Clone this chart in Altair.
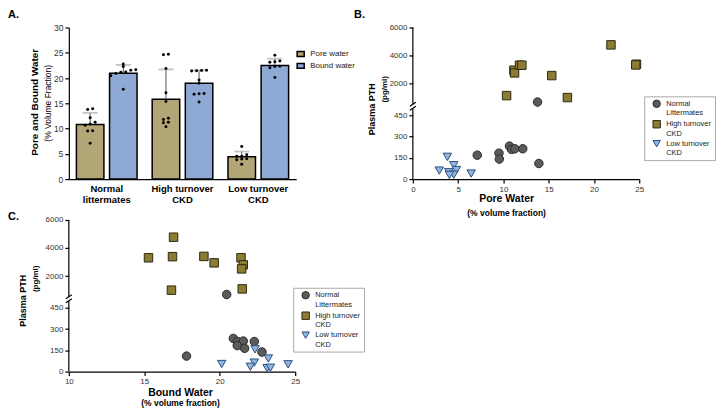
import altair as alt
import numpy as np
import pandas as pd

FONT = "Liberation Sans"

# ---------------- Panel A: group summaries ----------------
groups_a = ["Normal littermates", "High turnover CKD", "Low turnover CKD"]
water_types = ["Pore water", "Bound water"]
pore_mean = [10.8, 15.8, 4.4]
pore_mean_sd = [13.1, 21.7, 5.45]      # mean + SD (error bar top)
bound_mean = [20.95, 18.98, 22.46]
bound_mean_sd = [22.6, 21.5, 23.83]

# ---------------- Panel B: pore water vs plasma PTH ----------------
groups_sc = ["Normal Littermates", "High turnover CKD", "Low turnover CKD"]
normal_pore = [7.11, 9.51, 9.55, 10.67, 10.89, 11.26, 12.14, 13.92, 13.77]
normal_pore_pth = [169, 183, 141, 233, 210, 214, 214, 110, 680]
high_pore = [10.35, 11.16, 11.23, 11.78, 12.04, 15.34, 17.07, 21.88, 24.70, 24.62]
high_pore_pth = [1140, 2950, 2760, 3310, 3310, 2570, 1000, 4760, 3380, 3330]
low_pore = [2.92, 3.81, 3.96, 4.52, 4.81, 4.52, 4.04, 6.44]
low_pore_pth = [60, 157, 48, 98, 64, 31, 29, 39]

# ---------------- Panel C: bound water vs plasma PTH ----------------
normal_bound = [17.80, 20.90, 21.19, 21.56, 21.16, 21.65, 22.29, 22.80, 20.46]
normal_bound_pth = [109, 234, 212, 215, 183, 164, 212, 138, 680]
high_bound = [16.94, 15.28, 16.87, 18.95, 19.63, 21.41, 21.56, 21.45, 16.80, 21.49]
high_bound_pth = [4770, 3300, 3380, 3400, 2940, 3300, 2800, 2510, 990, 1080]
low_bound = [20.13, 22.34, 23.22, 22.29, 22.03, 23.14, 23.36, 24.53]
low_bound_pth = [53, 157, 92, 63, 34, 24, 27, 51]

pth_ticks = [0, 150, 300, 450, 2000, 4000, 6000]

# ---------------- styling ----------------
bar_fill = ["#b3a676", "#8eaad4"]
pt_fill = ["#5b5b5b", "#8c7b33", "#8db6e3"]
pt_stroke = ["#2b2b2b", "#2e2a12", "#2f4f7a"]
pt_shape = ["circle", "square", "triangle-down"]

# band layout of panel A
W_A, H_A = 228, 152
PAD_IN, PAD_OUT, SUB_PAD = 0.2, 0.1, 0.17

# ---------------- tables ----------------
bars_rows = []
for g, pm, pt, bm, bt in zip(groups_a, pore_mean, pore_mean_sd, bound_mean, bound_mean_sd):
    bars_rows.append({"group": g, "water": "Pore water", "mean": pm, "top": pt})
    bars_rows.append({"group": g, "water": "Bound water", "mean": bm, "top": bt})
bars_df = pd.DataFrame(bars_rows)


def swarm(vals, tol=0.45, step=5.0):
    vals = np.asarray(vals, dtype=float)
    order = np.argsort(vals)
    offs = np.zeros(len(vals))
    clusters, cur = [], [order[0]]
    for a, b in zip(order[:-1], order[1:]):
        if vals[b] - vals[a] < tol:
            cur.append(b)
        else:
            clusters.append(cur)
            cur = [b]
    clusters.append(cur)
    for c in clusters:
        n = len(c)
        for i, j in enumerate(c):
            offs[j] = (i - (n - 1) / 2) * step
    return offs


# centre of each water sub-band relative to the group band centre (same band maths as the scales)
step_g = W_A / (len(groups_a) - PAD_IN + 2 * PAD_OUT)
bw_g = step_g * (1 - PAD_IN)
step_s = bw_g / (2 - SUB_PAD)
bw_s = step_s * (1 - SUB_PAD)
water_shift = {"Pore water": bw_s / 2 - bw_g / 2, "Bound water": step_s + bw_s / 2 - bw_g / 2}

dot_rows = []
pore_sets = [normal_pore, high_pore, low_pore]
bound_sets = [normal_bound, high_bound, low_bound]
for g, pv, bv in zip(groups_a, pore_sets, bound_sets):
    for w, vals in (("Pore water", pv), ("Bound water", bv)):
        for v, o in zip(vals, swarm(vals)):
            dot_rows.append({"group": g, "water": w, "value": v,
                             "off": round(float(o) + water_shift[w], 3)})
dots_df = pd.DataFrame(dot_rows)

dfB = pd.DataFrame({
    "group": [groups_sc[0]] * len(normal_pore) + [groups_sc[1]] * len(high_pore) + [groups_sc[2]] * len(low_pore),
    "water": normal_pore + high_pore + low_pore,
    "pth": normal_pore_pth + high_pore_pth + low_pore_pth,
})
dfC = pd.DataFrame({
    "group": [groups_sc[0]] * len(normal_bound) + [groups_sc[1]] * len(high_bound) + [groups_sc[2]] * len(low_bound),
    "water": normal_bound + high_bound + low_bound,
    "pth": normal_bound_pth + high_bound_pth + low_bound_pth,
})


def txt(s, x, y, size, bold=True, angle=0, align="center", baseline="middle", color="black"):
    return alt.Chart(pd.DataFrame({"t": [s]})).mark_text(
        text=s, font=FONT, fontSize=size, fontWeight="bold" if bold else "normal",
        angle=angle, align=align, baseline=baseline, color=color,
    ).encode(x=alt.value(x), y=alt.value(y))


split_expr = ("split(replace(replace(replace(datum.label, ' littermates', '|littermates'), "
              "' Littermates', '|Littermates'), ' CKD', '|CKD'), '|')")

# ---------------- Panel A ----------------
xA = alt.X("group:N", sort=groups_a,
           scale=alt.Scale(domain=groups_a, paddingInner=PAD_IN, paddingOuter=PAD_OUT),
           axis=alt.Axis(title=None, labelAngle=0, ticks=False, labelFontWeight="bold",
                         labelFontSize=9.5, labelColor="black", labelExpr=split_expr,
                         labelLineHeight=11, labelPadding=4, labelBaseline="top"))
xoffA = alt.XOffset("water:N", sort=water_types,
                    scale=alt.Scale(domain=water_types, paddingInner=SUB_PAD, paddingOuter=0))
yA_scale = alt.Scale(domain=[0, 30], nice=False)

legA = alt.Legend(title=None, orient="none", legendX=228, legendY=22, padding=0,
                  symbolType="M-1,-0.7H1V0.7H-1Z", symbolSize=50,
                  symbolStrokeColor="black", symbolStrokeWidth=1.5,
                  labelFont=FONT, labelFontSize=8, labelColor="#222",
                  rowPadding=1, labelOffset=5)

bars = alt.Chart(bars_df).mark_bar(stroke="black", strokeWidth=1.5).encode(
    x=xA, xOffset=xoffA,
    y=alt.Y("mean:Q", scale=yA_scale,
            axis=alt.Axis(values=list(range(0, 31, 5)), tickCount=20, title=None,
                          labelFontSize=8.5, labelOverlap=False, labelFlush=False)),
    fill=alt.Fill("water:N", scale=alt.Scale(domain=water_types, range=bar_fill), legend=legA),
)
err = alt.Chart(bars_df).mark_rule(color="#555", strokeWidth=1).encode(
    x=xA, xOffset=xoffA, y=alt.Y("mean:Q", scale=yA_scale), y2="top:Q")
cap = alt.Chart(bars_df).mark_tick(color="#aaa", thickness=1.8, size=15).encode(
    x=xA, xOffset=xoffA, y=alt.Y("top:Q", scale=yA_scale))

dot_layers = []
for o in sorted(dots_df["off"].unique()):
    dot_layers.append(
        alt.Chart(dots_df).transform_filter(alt.datum.off == float(o)).mark_circle(
            size=9, color="black", opacity=1, xOffset=float(o),
        ).encode(x=xA, y=alt.Y("value:Q", scale=yA_scale))
    )

panelA = alt.layer(
    bars, err, cap, *dot_layers,
    txt("A.", -61, -19, 11, baseline="top", align="left"),
    txt("Pore and Bound Water", -34, 75, 10, angle=270),
    txt("(% Volume Fraction)", -21, 76, 8.5, bold=False, angle=270),
).properties(width=W_A, height=H_A)


# ---------------- Panels B and C ----------------
def scatter(df, xdomain, xticks, W, H, legx, legy, texts):
    yscale = alt.Scale(type="linear", domain=[0, 500, 520, 6000], range=[H, 81, 77, 0],
                       nice=False, zero=False)
    xscale = alt.Scale(domain=xdomain, nice=False, zero=False)
    leg = alt.Legend(title=None, orient="none", legendX=legx, legendY=legy, padding=3,
                     strokeColor="#aaa", fillColor="white", symbolSize=55,
                     symbolStrokeWidth=1, labelFont=FONT, labelFontSize=7.5,
                     labelColor="#222", labelExpr=split_expr, rowPadding=0.5,
                     symbolOffset=5, labelOffset=5, labelLimit=0)
    pts = alt.Chart(df).mark_point(filled=True, size=72, strokeWidth=1, opacity=1).encode(
        x=alt.X("water:Q", scale=xscale,
                axis=alt.Axis(values=xticks, tickCount=20, title=None, labelFlush=False,
                              labelOverlap=False)),
        y=alt.Y("pth:Q", scale=yscale,
                axis=alt.Axis(values=pth_ticks, tickCount=20, title=None, domain=False,
                              format="d", labelOverlap=False, labelFlush=False)),
        fill=alt.Fill("group:N", scale=alt.Scale(domain=groups_sc, range=pt_fill), legend=leg),
        stroke=alt.Stroke("group:N", scale=alt.Scale(domain=groups_sc, range=pt_stroke), legend=leg),
        shape=alt.Shape("group:N", scale=alt.Scale(domain=groups_sc, range=pt_shape), legend=leg),
    )
    one = pd.DataFrame({"k": [0]})
    x0 = xdomain[0]
    low_line = alt.Chart(one).mark_rule(color="black", strokeWidth=1.2).encode(
        x=alt.datum(x0), y=alt.datum(0), y2=alt.datum(500))
    up_line = alt.Chart(one).mark_rule(color="black", strokeWidth=1.2).encode(
        x=alt.datum(x0), y=alt.datum(520), y2=alt.datum(6000))
    slashes = [
        alt.Chart(one).mark_rule(color="black", strokeWidth=1.2, xOffset=-3, x2Offset=3,
                                 yOffset=2, y2Offset=-2).encode(
            x=alt.datum(x0), x2=alt.datum(x0), y=alt.datum(v), y2=alt.datum(v))
        for v in (500, 520)
    ]
    return alt.layer(low_line, up_line, *slashes, pts, *texts).properties(width=W, height=H)


panelB = scatter(dfB, [0, 25], [0, 5, 10, 15, 20, 25], 227, 152, 232, 69, [
    txt("B.", -59, -19, 11, baseline="top", align="left"),
    txt("Plasma PTH", -41, 82, 9, angle=270),
    txt("(pg/ml)", -28, 62, 8, angle=270),
    txt("Pore Water", 94, 172, 10.5),
    txt("(% volume fraction)", 94, 186, 8.5),
])

panelC = scatter(dfC, [10, 25], [10, 15, 20, 25], 227, 152, 225, 68, [
    txt("C.", -61, -9, 11, baseline="top", align="left"),
    txt("Plasma PTH", -46, 81, 9, angle=270),
    txt("(pg/ml)", -33, 59, 8, angle=270),
    txt("Bound Water", 112, 173.5, 10.5),
    txt("(% volume fraction)", 112, 183.5, 8.5),
])

chart = alt.concat(
    panelA, panelB, panelC, columns=2, spacing={"row": 41, "column": 117}, bounds="flush",
).resolve_scale(
    x="independent", y="independent", fill="independent", stroke="independent", shape="independent",
).resolve_legend(
    fill="independent", stroke="independent", shape="independent",
).properties(padding=0).configure_view(stroke=None).configure_axis(
    grid=False, labelFont=FONT, labelFontSize=8, labelColor="#333",
    domainColor="black", domainWidth=1.2, tickColor="black", tickWidth=1.2, tickSize=4,
    labelPadding=2, labelOverlap=False,
)

chart.save("out.html", embed_options={"renderer": "svg", "actions": False})
